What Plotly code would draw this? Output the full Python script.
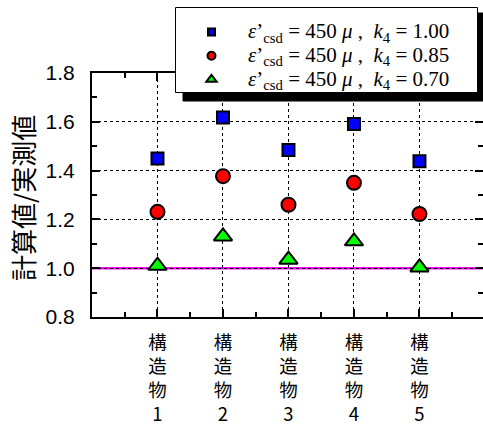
import plotly.graph_objects as go

categories = [1, 2, 3, 4, 5]
tick_labels = ["構<br>造<br>物<br>1", "構<br>造<br>物<br>2", "構<br>造<br>物<br>3",
               "構<br>造<br>物<br>4", "構<br>造<br>物<br>5"]
k4_100 = [1.45, 1.618, 1.484, 1.591, 1.438]
k4_085 = [1.231, 1.377, 1.26, 1.35, 1.222]
k4_070 = [1.01, 1.13, 1.035, 1.11, 1.003]
ref_value = 1.0
y_title = "計算値/実測値"

names = [
    "<i>ε</i>’<sub>csd</sub> = 450 <i>μ</i> ,  <i>k</i><sub>4</sub> = 1.00",
    "<i>ε</i>’<sub>csd</sub> = 450 <i>μ</i> ,  <i>k</i><sub>4</sub> = 0.85",
    "<i>ε</i>’<sub>csd</sub> = 450 <i>μ</i> ,  <i>k</i><sub>4</sub> = 0.70",
]
styles = [
    dict(symbol="square", color="#0000ff", size=12, lsize=7),
    dict(symbol="circle", color="#ff0000", size=14, lsize=8),
    dict(symbol="triangle-up", color="#00ff00", size=16, lsize=9),
]
series = [k4_100, k4_085, k4_070]

fig = go.Figure()
for vals, st in zip(series, styles):
    fig.add_trace(go.Scatter(x=categories, y=vals, mode="markers", showlegend=False,
                             marker=dict(symbol=st["symbol"], size=st["size"], color=st["color"],
                                         line=dict(color="black", width=2))))
# legend-only entries (smaller symbols, as in the reference key)
for name, st in zip(names, styles):
    fig.add_trace(go.Scatter(x=[None], y=[None], mode="markers",
                             name='<span style="font-size:21px">' + name + "</span>",
                             marker=dict(symbol=st["symbol"], size=st["lsize"], color=st["color"],
                                         line=dict(color="black", width=2))))

fig.add_shape(type="line", xref="paper", x0=0, x1=1, yref="y", y0=ref_value, y1=ref_value,
              line=dict(color="#ff00ff", width=2.5), layer="between")

# legend box with drop shadow (plot area: x 92..483, y 73..317 px)
def px(xp):
    return (xp - 92) / 391.0

def py(yp):
    return (317 - yp) / 244.0

fig.add_shape(type="rect", xref="paper", yref="paper",
              x0=px(183), x1=px(483), y0=py(101), y1=py(13),
              fillcolor="#000000", line=dict(color="#000000", width=1), layer="above")
fig.add_shape(type="rect", xref="paper", yref="paper",
              x0=px(175.5), x1=px(477.5), y0=py(92.5), y1=py(7.5),
              fillcolor="white", line=dict(color="black", width=1), layer="above")

fig.add_annotation(text=y_title, xref="paper", yref="paper", x=px(22), y=py(198),
                   xanchor="center", yanchor="middle", textangle=-90, showarrow=False,
                   font=dict(family="Noto Sans CJK JP", size=26, color="black"))

fig.update_layout(
    width=483, height=430,
    margin=dict(l=92, r=0, t=73, b=113, autoexpand=False),
    paper_bgcolor="white", plot_bgcolor="white",
    showlegend=True,
    legend=dict(x=px(175), y=py(15), xanchor="left", yanchor="top",
                bgcolor="rgba(0,0,0,0)", borderwidth=0,
                font=dict(family="Liberation Serif", size=16, color="black"),
                itemwidth=63),
    font=dict(family="Liberation Sans", color="black"),
)

fig.update_xaxes(
    range=[0, 5.97], tickmode="array", tickvals=categories, ticktext=tick_labels,
    tickfont=dict(family="Noto Sans CJK JP", size=18.5, color="black"),
    ticks="inside", ticklen=8, tickwidth=2, tickcolor="black",
    showline=True, linewidth=2, linecolor="black", mirror="ticks",
    showgrid=True, gridcolor="black", gridwidth=1, griddash="dot",
    zeroline=False, automargin=False, ticklabelstandoff=8,
    minor=dict(tickmode="linear", tick0=0.5, dtick=1, ticks="inside", ticklen=5,
               tickwidth=2, tickcolor="black", showgrid=False),
)
fig.update_yaxes(
    range=[0.8, 1.8], tickmode="linear", tick0=0.8, dtick=0.2, tickformat=".1f",
    tickfont=dict(family="Liberation Sans", size=21, color="black"),
    ticks="inside", ticklen=8, tickwidth=2, tickcolor="black",
    showline=True, linewidth=2, linecolor="black", mirror="ticks",
    showgrid=True, gridcolor="black", gridwidth=1, griddash="dot",
    zeroline=False, ticklabelstandoff=11, automargin=False,
    minor=dict(tickmode="linear", tick0=0.9, dtick=0.2, ticks="inside", ticklen=5,
               tickwidth=2, tickcolor="black", showgrid=False),
)

fig.write_html(
    "out.html",
    config={"displayModeBar": False, "responsive": False},
    post_script=(
        "document.body.style.margin='0';document.body.style.padding='0';"
        "var gd=document.getElementById('{plot_id}');"
        "Plotly.relayout(gd,{'shapes[1].visible':true});"
    ),
)
